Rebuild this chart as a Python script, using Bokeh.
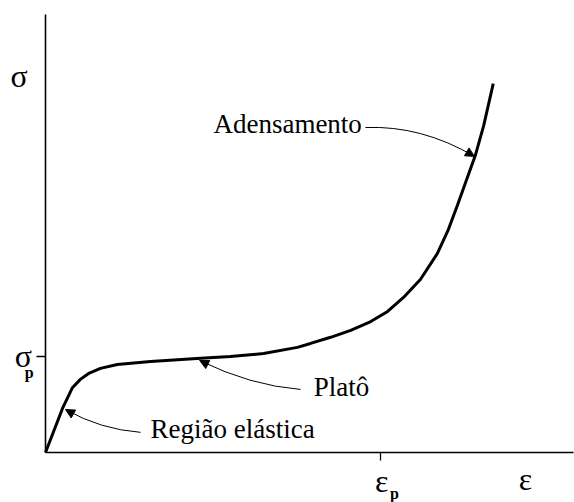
from bokeh.plotting import figure
from bokeh.models import Range1d, FixedTicker, Label, Arrow, NormalHead
from bokeh.embed import file_html
from bokeh.resources import INLINE

# Stress-strain curve (arbitrary normalised units)
strain = [0.0, 0.032, 0.051, 0.066, 0.081, 0.104, 0.136, 0.199, 0.294, 0.350,
          0.413, 0.477, 0.502, 0.540, 0.578, 0.616, 0.648, 0.678, 0.710, 0.742,
          0.763, 0.780, 0.799, 0.814, 0.830, 0.848]
stress = [0.0, 0.100, 0.148, 0.167, 0.180, 0.192, 0.201, 0.208, 0.215, 0.219,
          0.226, 0.240, 0.249, 0.263, 0.279, 0.299, 0.322, 0.354, 0.395, 0.454,
          0.509, 0.564, 0.628, 0.678, 0.747, 0.842]

sigma_p = [0.219]
eps_p = [0.634]

FONT = "Liberation Serif"

# frame covers the whole canvas; axes are pinned at 0 with fixed_location
p = figure(width=574, height=502, output_backend="svg", toolbar_location=None,
           x_range=Range1d(-45 / 528, 529 / 528),
           y_range=Range1d(-50 / 438, 452 / 438),
           min_border=0)
p.outline_line_color = None
p.xgrid.visible = False
p.ygrid.visible = False
p.background_fill_color = "white"
p.border_fill_color = "white"

for ax, tick, out in ((p.xaxis, eps_p, 8), (p.yaxis, sigma_p, 9)):
    ax.fixed_location = 0
    ax.bounds = (0, 1)
    ax.ticker = FixedTicker(ticks=tick)
    ax.major_label_overrides = {tick[0]: ""}
    ax.axis_line_color = "black"
    ax.axis_line_width = 1.6
    ax.major_tick_line_color = "black"
    ax.major_tick_line_width = 1.3
    ax.major_tick_out = out
    ax.major_tick_in = 0
    ax.minor_tick_line_color = None
    ax.major_label_standoff = 0

p.line(strain, stress, line_color="black", line_width=3)

# curved pointer arrows
arrows = [
    # (x0, y0, cx, cy, x1, y1)
    (0.606, 0.742, 0.712, 0.747, 0.8125, 0.676),
    (0.483, 0.144, 0.388, 0.153, 0.292, 0.210),
    (0.180, 0.046, 0.104, 0.053, 0.038, 0.098),
]
for x0, y0, cx, cy, x1, y1 in arrows:
    p.quadratic(x0=[x0], y0=[y0], x1=[x1], y1=[y1], cx=[cx], cy=[cy],
                line_color="black", line_width=1)
    xs = x1 - 0.15 * (x1 - cx)
    ys = y1 - 0.15 * (y1 - cy)
    p.add_layout(Arrow(x_start=xs, y_start=ys, x_end=x1, y_end=y1,
                       line_color="black", line_width=1,
                       end=NormalHead(size=9, fill_color="black",
                                      line_color="black", line_width=1)))

def lab(x, y, t, size, align="left", style="normal"):
    p.add_layout(Label(x=x, y=y, text=t, text_font=FONT,
                       text_font_size=size, text_align=align,
                       text_baseline="alphabetic", text_font_style=style,
                       text_color="black"))

lab(0.318, 0.751, "Adensamento", "27px")
lab(0.508, 0.150, "Platô", "27px")
lab(0.199, 0.054, "Região elástica", "27px")

lab(-0.050, 0.860, "σ", "32px", "center")
lab(-0.042, 0.221, "σ", "32px", "center")
lab(-0.031, 0.182, "p", "16px", "center", "bold")
lab(0.637, -0.064, "ε", "32px", "center")
lab(0.661, -0.094, "p", "16px", "center", "bold")
lab(0.909, -0.060, "ε", "32px", "center")

open("out.html", "w").write(file_html(p, INLINE))
